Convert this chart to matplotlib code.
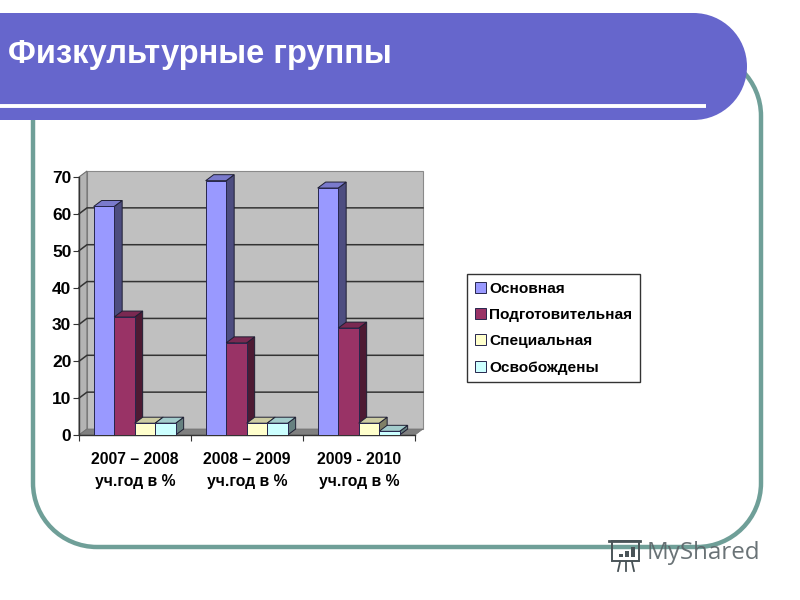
import matplotlib
matplotlib.use('Agg')
from matplotlib import pyplot as plt
from matplotlib.patches import PathPatch, Polygon, Rectangle
from matplotlib.path import Path

years = ['2007 – 2008\nуч.год в %', '2008 – 2009\nуч.год в %', '2009 - 2010\nуч.год в %']
groups = ['Основная', 'Подготовительная', 'Специальная', 'Освобождены']
osnovnaya = [62, 69, 67]
podgot = [32, 25, 29]
spec = [3.2, 3.2, 3.2]
osvob = [3.2, 3.2, 1]
series = [osnovnaya, podgot, spec, osvob]
front_colors = ['#9999ff', '#993366', '#ffffcc', '#ccffff']
side_colors = ['#4d4d80', '#4d1a33', '#808066', '#668080']
top_colors = ['#7a7acc', '#7a2952', '#cccca3', '#a3cccc']
yticks = [0, 10, 20, 30, 40, 50, 60, 70]

sans = ['Liberation Sans', 'DejaVu Sans']
K = 0.5523


def round_rect(x0, y0, x1, y1, r):
    c = r * (1 - K)
    verts = [(x0 + r, y0), (x1 - r, y0), (x1 - c, y0), (x1, y0 + c), (x1, y0 + r),
             (x1, y1 - r), (x1, y1 - c), (x1 - c, y1), (x1 - r, y1),
             (x0 + r, y1), (x0 + c, y1), (x0, y1 - c), (x0, y1 - r),
             (x0, y0 + r), (x0, y0 + c), (x0 + c, y0), (x0 + r, y0), (x0 + r, y0)]
    codes = [Path.MOVETO, Path.LINETO, Path.CURVE4, Path.CURVE4, Path.CURVE4,
             Path.LINETO, Path.CURVE4, Path.CURVE4, Path.CURVE4,
             Path.LINETO, Path.CURVE4, Path.CURVE4, Path.CURVE4,
             Path.LINETO, Path.CURVE4, Path.CURVE4, Path.CURVE4, Path.CLOSEPOLY]
    return Path(verts, codes)


fig = plt.figure(figsize=(8, 6), dpi=100)

# slide background, in pixels
bg = fig.add_axes([0, 0, 1, 1])
bg.set_xlim(0, 800)
bg.set_ylim(600, 0)
bg.axis('off')
bg.add_patch(PathPatch(round_rect(33, 52, 761, 547, 64), fc='white', ec='#6f9f98', lw=3.2))
bg.add_patch(PathPatch(round_rect(-80, 13, 747, 120, 53.5), fc='#6666cc', ec='none'))
bg.plot([0, 706], [106, 106], color='white', lw=2.8, solid_capstyle='butt')
bg.text(8, 55, 'Физкультурные группы', color='white', fontsize=23.5, fontweight='bold',
        family='Liberation Sans', va='center')

# watermark
bg.text(647, 553, 'MyShared', color='#5a6468', fontsize=17.4, family='Open Sans', va='center', alpha=0.9)
bg.add_patch(Rectangle((612, 541), 27, 20, fc='none', ec='#4a5458', lw=1.4))
bg.plot([609, 640], [541, 541], color='#4a5458', lw=2)
for x, h in zip([619, 625, 631], [3, 6, 10]):
    bg.add_patch(Rectangle((x, 557 - h), 3.5, h, fc='#4a5458', ec='none'))
bg.plot([620, 618], [562, 571], color='#4a5458', lw=1.3)
bg.plot([626, 626], [562, 571], color='#4a5458', lw=1.3)
bg.plot([632, 634], [562, 571], color='#4a5458', lw=1.3)

# chart, front plane
ax = fig.add_axes([79 / 800, 1 - 435 / 600, 336 / 800, 258 / 600])
ax.patch.set_alpha(0)
ax.set_xlim(-0.5, 2.5)
ax.set_ylim(0, 70)
dx = 8 / (336 / 3)
dy = 6 / (258 / 70)
xl, xr = -0.5, 2.5

ax.add_patch(Polygon([(xl + dx, dy), (xr + dx, dy), (xr + dx, 70 + dy), (xl + dx, 70 + dy)],
                     fc='#c0c0c0', ec='#8a8a8a', lw=0.8, clip_on=False, zorder=0))
ax.add_patch(Polygon([(xl, 0), (xl + dx, dy), (xl + dx, 70 + dy), (xl, 70)],
                     fc='#b4b4b4', ec='#707070', lw=0.8, clip_on=False, zorder=0))
ax.add_patch(Polygon([(xl, 0), (xr, 0), (xr + dx, dy), (xl + dx, dy)],
                     fc='#808080', ec='#707070', lw=0.5, clip_on=False, zorder=0))
for t in yticks[1:-1]:
    ax.plot([xl, xl + dx, xr + dx], [t, t + dy, t + dy], color='#333333', lw=1.1, clip_on=False, zorder=1)

bar_w = 0.183
for i, (vals, name) in enumerate(zip(series, groups)):
    z = 3 + i
    lefts = [g + (i - 2) * bar_w - 0.003 for g in range(len(years))]
    ax.bar(lefts, vals, bar_w, align='edge', color=front_colors[i], edgecolor='#26264d', lw=0.7,
           label=name, zorder=z + 0.1)
    for x0, v in zip(lefts, vals):
        x1 = x0 + bar_w
        ax.add_patch(Polygon([(x1, 0), (x1 + dx, dy), (x1 + dx, v + dy), (x1, v)], fc=side_colors[i],
                             ec='#1f1f33', lw=0.7, clip_on=False, zorder=z))
        ax.add_patch(Polygon([(x0, v), (x1, v), (x1 + dx, v + dy), (x0 + dx, v + dy)], fc=top_colors[i],
                             ec='#1f1f33', lw=0.7, clip_on=False, zorder=z))

for s in ['top', 'right']:
    ax.spines[s].set_visible(False)
for s in ['left', 'bottom']:
    ax.spines[s].set_color('#333333')
    ax.spines[s].set_linewidth(1)
    ax.spines[s].set_zorder(2)

ax.set_yticks(yticks)
ax.set_yticklabels([str(t) for t in yticks], family=sans, fontweight='bold', fontsize=12.5)
ax.set_xticks([-0.5, 0.5, 1.5, 2.5])
ax.set_xticklabels([])
ax.set_xticks([0, 1, 2], minor=True)
ax.set_xticklabels(years, minor=True, family=sans, fontweight='bold', fontsize=11.3, linespacing=1.65)
ax.tick_params(axis='x', which='minor', length=0, pad=12)
ax.tick_params(axis='x', which='major', length=4, color='#333333')
ax.tick_params(axis='y', length=4, color='#333333', pad=1.5)

leg = ax.legend(loc='upper left', bbox_to_anchor=(467 / 800, 1 - 274 / 600), bbox_transform=fig.transFigure,
                fancybox=False, framealpha=1, edgecolor='#333333', borderaxespad=0, borderpad=0.5,
                handlelength=0.72, handleheight=0.72, handletextpad=0.2, labelspacing=0.8,
                prop={'family': sans, 'weight': 'bold', 'size': 11.1})
leg.get_frame().set_linewidth(1)
leg.set_zorder(20)

fig.savefig('out.png', dpi=100)
